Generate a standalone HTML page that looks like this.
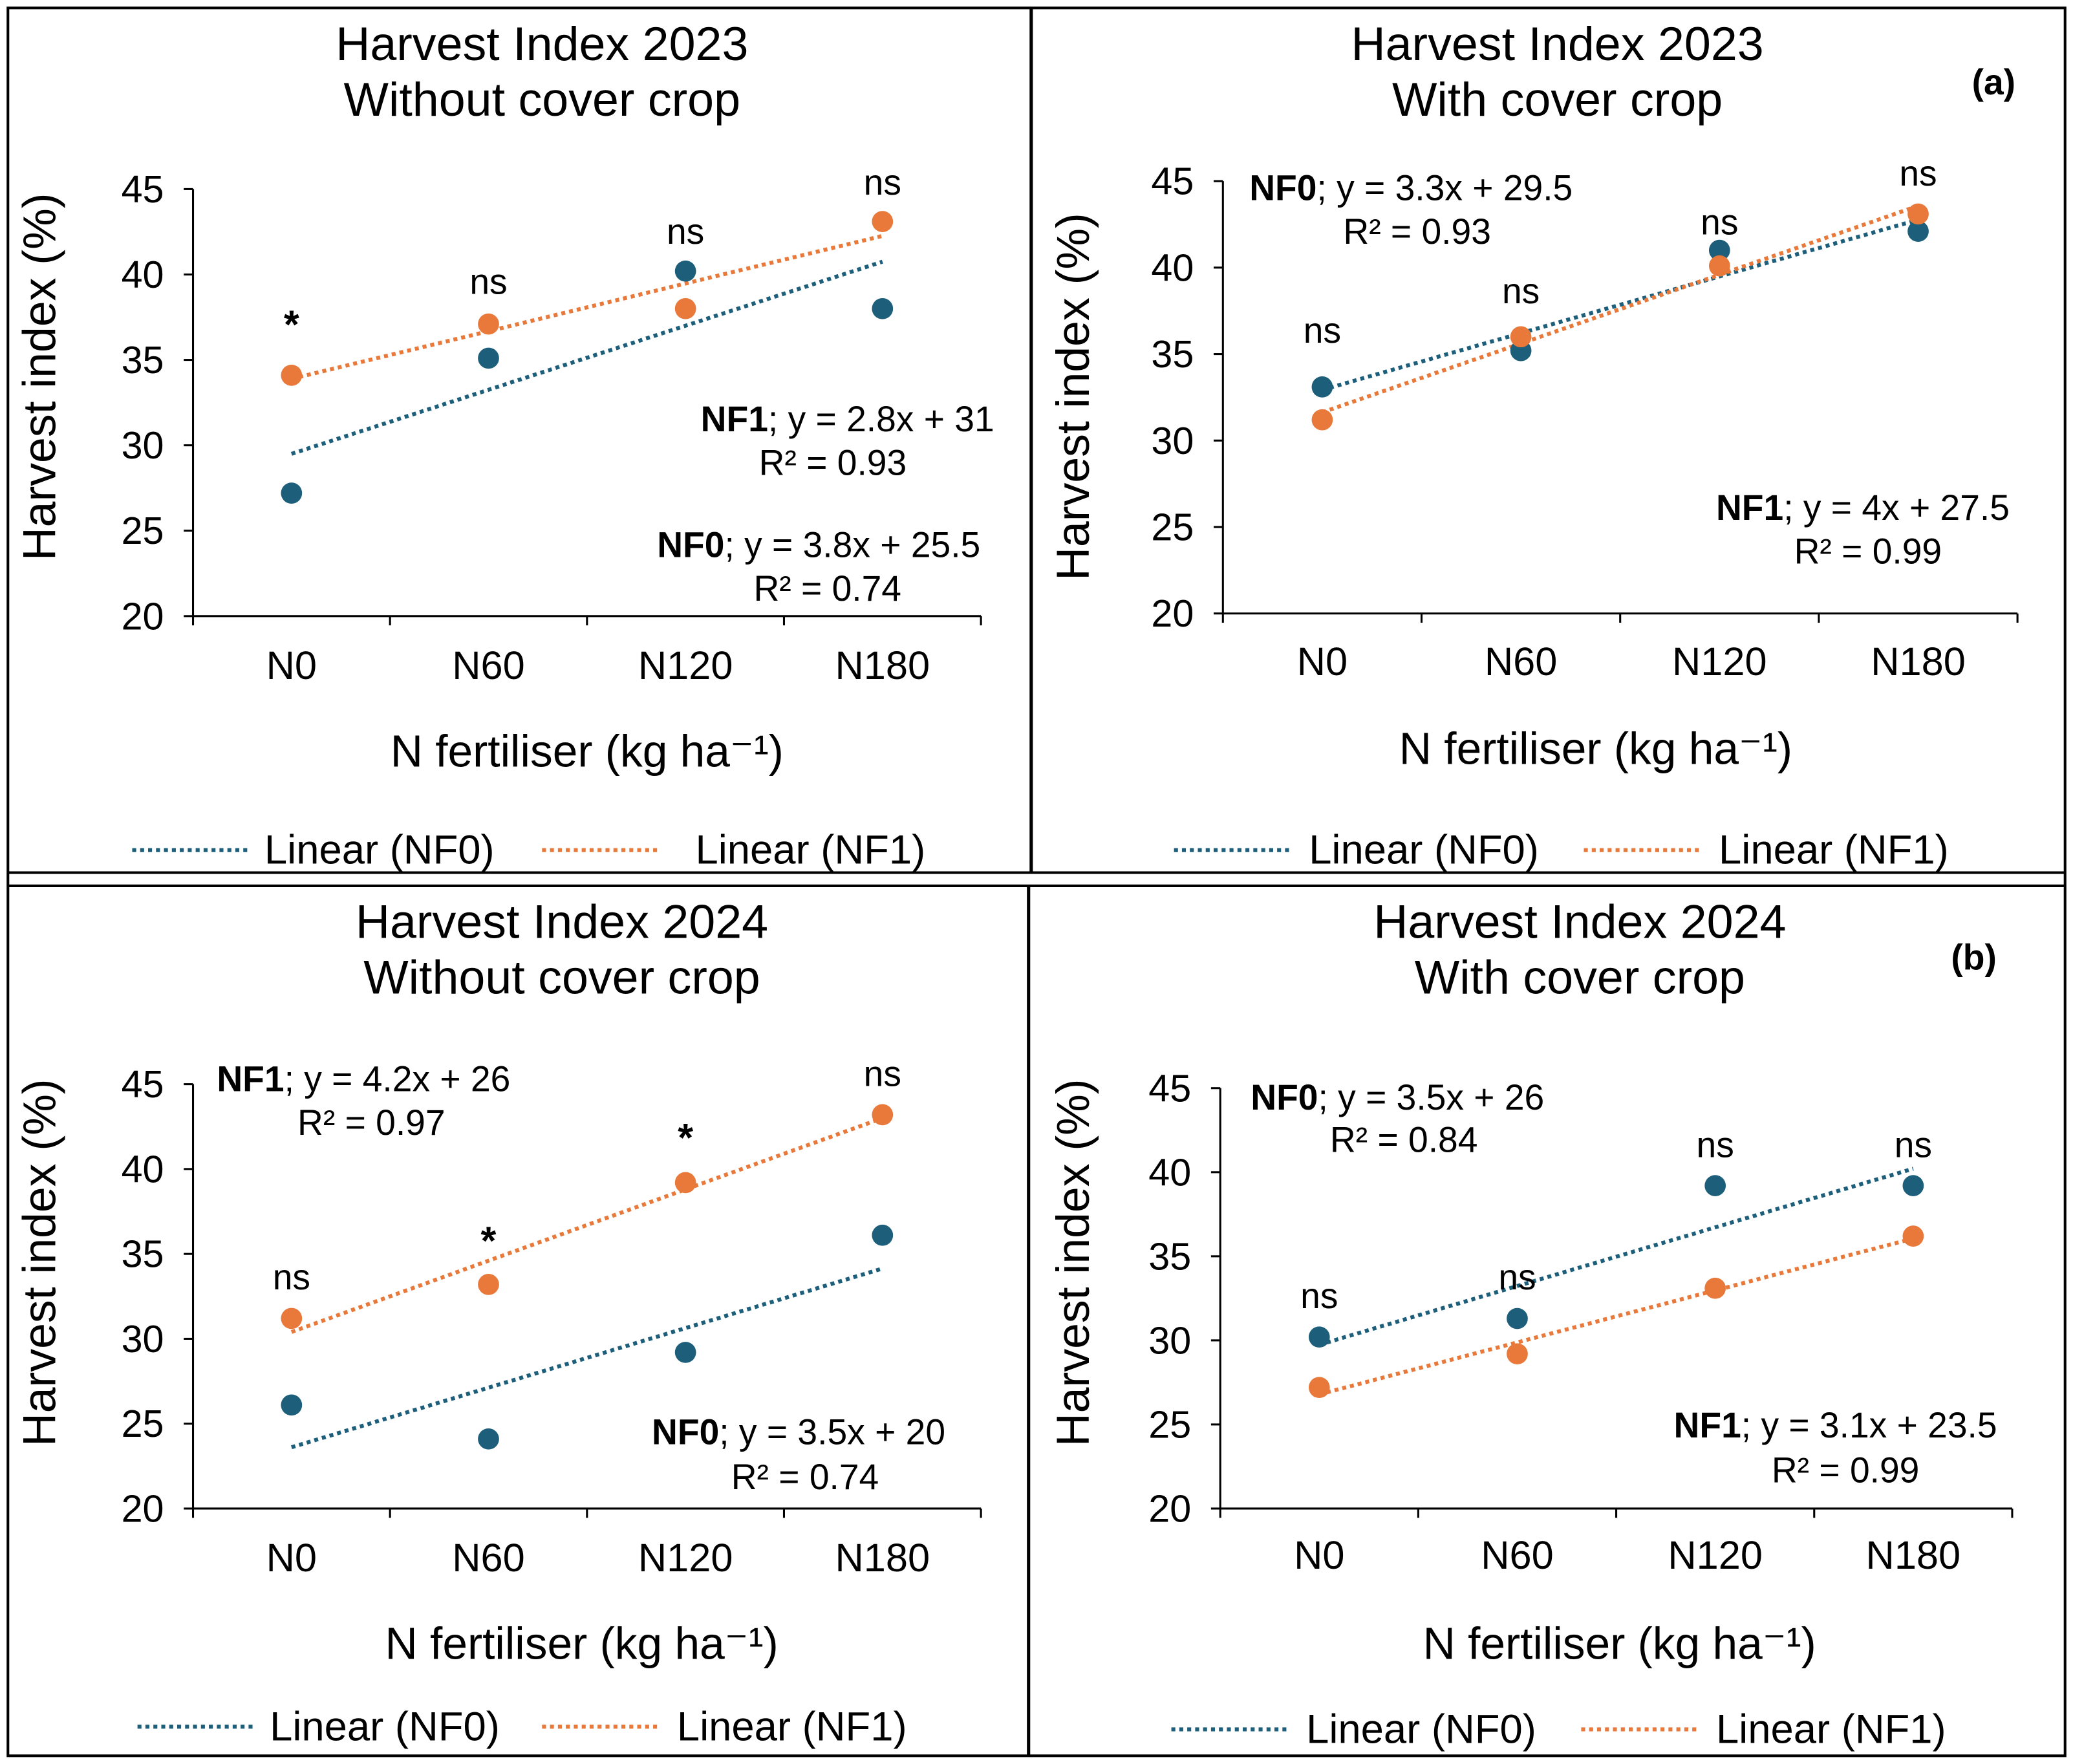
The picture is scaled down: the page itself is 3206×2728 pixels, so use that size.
<!DOCTYPE html>
<html><head><meta charset="utf-8">
<style>
html,body{margin:0;padding:0;background:#fff}
svg{display:block;font-family:"Liberation Sans",Arial,sans-serif}
</style></head>
<body>
<svg id="fig" width="3206" height="2728" viewBox="0 0 1568 1334.2" xmlns="http://www.w3.org/2000/svg">
<rect x="0" y="0" width="1568" height="1334.2" fill="#fff"/>
<g stroke="#000" fill="none">
<rect x="6" y="6" width="1556" height="1322" stroke-width="2"/>
<line x1="780" y1="6" x2="780" y2="660" stroke-width="2.5"/>
<line x1="778" y1="670" x2="778" y2="1328" stroke-width="2.5"/>
<line x1="6" y1="660" x2="1562" y2="660" stroke-width="2"/>
<line x1="6" y1="670" x2="1562" y2="670" stroke-width="2"/>
</g>
</svg>
<script>
const categories = ["N0","N60","N120","N180"];
const yTicks = [20,25,30,35,40,45];
const nf0_2023_without = [27.2, 35.1, 40.2, 38.0];
const nf1_2023_without = [34.1, 37.1, 38.0, 43.1];
const sig_2023_without = ["*","ns","ns","ns"];
const nf0_2023_with = [33.1, 35.2, 41.0, 42.1];
const nf1_2023_with = [31.2, 36.0, 40.1, 43.1];
const sig_2023_with = ["ns","ns","ns","ns"];
const nf0_2024_without = [26.1, 24.1, 29.2, 36.1];
const nf1_2024_without = [31.2, 33.2, 39.2, 43.2];
const sig_2024_without = ["ns","*","*","ns"];
const nf0_2024_with = [30.2, 31.3, 39.2, 39.2];
const nf1_2024_with = [27.2, 29.2, 33.1, 36.2];
const sig_2024_with = ["ns","ns","ns","ns"];

const BLUE="#1d5f7b", ORANGE="#e8793a";
const NS="http://www.w3.org/2000/svg";
const svg=document.getElementById('fig');
function mk(tag,attrs,parent,text){const e=document.createElementNS(NS,tag);for(const k in attrs)e.setAttribute(k,attrs[k]);if(text!==undefined)e.textContent=text;(parent||svg).appendChild(e);return e;}
function fit(v){const n=v.length;let mx=0,my=0;v.forEach((y,i)=>{mx+=i+1;my+=y});mx/=n;my/=n;let sxy=0,sxx=0;v.forEach((y,i)=>{sxy+=(i+1-mx)*(y-my);sxx+=(i+1-mx)*(i+1-mx)});const a=sxy/sxx;return [a,my-a*mx];}

const panels=[
 {name:"2023-without",nf0:nf0_2023_without,nf1:nf1_2023_without,sig:sig_2023_without,x0:146,x1:742,y0:466,y1:143,
  title:["Harvest Index 2023","Without cover crop"],tx:410,ty:33,ytx:30,yty:285,xlx:444,xly:568,tly:503,
  sigY:[240,213,175,138],
  eq:[["NF1","; y = 2.8x + 31",530,317],["","R² = 0.93",574,350],["NF0","; y = 3.8x + 25.5",497,412],["","R² = 0.74",570,445]],
  leg:[100,200,410,526,643],tag:null},
 {name:"2023-with",nf0:nf0_2023_with,nf1:nf1_2023_with,sig:sig_2023_with,x0:925,x1:1526,y0:464,y1:137,
  title:["Harvest Index 2023","With cover crop"],tx:1178,ty:33,ytx:812,yty:300,xlx:1207,xly:566,tly:500,
  sigY:[250,220,168,131],
  eq:[["NF0","; y = 3.3x + 29.5",945,142],["","R² = 0.93",1016,175],["NF1","; y = 4x + 27.5",1298,384],["","R² = 0.99",1357,417]],
  leg:[888,990,1198,1300,643],tag:["(a)",1508,62]},
 {name:"2024-without",nf0:nf0_2024_without,nf1:nf1_2024_without,sig:sig_2024_without,x0:146,x1:742,y0:1141,y1:820,
  title:["Harvest Index 2024","Without cover crop"],tx:425,ty:697,ytx:30,yty:955,xlx:440,xly:1243,tly:1178,
  sigY:[966,933,855,812],
  eq:[["NF1","; y = 4.2x + 26",164,816],["","R² = 0.97",225,849],["NF0","; y = 3.5x + 20",493,1083],["","R² = 0.74",553,1117]],
  leg:[104,204,410,512,1306],tag:null},
 {name:"2024-with",nf0:nf0_2024_with,nf1:nf1_2024_with,sig:sig_2024_with,x0:923,x1:1522,y0:1141,y1:823,
  title:["Harvest Index 2024","With cover crop"],tx:1195,ty:697,ytx:812,yty:955,xlx:1225,xly:1243,tly:1176,
  sigY:[980,966,866,866],
  eq:[["NF0","; y = 3.5x + 26",946,830],["","R² = 0.84",1006,862],["NF1","; y = 3.1x + 23.5",1266,1078],["","R² = 0.99",1340,1112]],
  leg:[886,988,1196,1298,1308],tag:["(b)",1493,724]}
];

panels.forEach(p=>{
 const g=mk('g',{});
 
 
 const step=(p.x1-p.x0)/4;
 const xs=i=>p.x0+(i+0.5)*step;
 const ys=v=>p.y0+(v-20)/25*(p.y1-p.y0);
 p.title.forEach((t,k)=>{const e=mk('text',{x:p.tx,y:p.ty+k*42,'font-size':36,'text-anchor':'middle','dominant-baseline':'central'},g,t);
  });
 if(p.tag){const e=mk('text',{x:p.tag[1],y:p.tag[2],'font-size':27,'font-weight':'bold','text-anchor':'middle','dominant-baseline':'central'},g,p.tag[0]);
  }
 const ax=mk('path',{d:`M${p.x0},${p.y1}V${p.y0}H${p.x1}`,stroke:'#000','stroke-width':1.5,fill:'none'},g);
 
 yTicks.forEach(v=>{
  mk('line',{x1:p.x0-7,x2:p.x0,y1:ys(v),y2:ys(v),stroke:'#000','stroke-width':1.5},g);
  const e=mk('text',{x:p.x0-22,y:ys(v),'font-size':29,'text-anchor':'end','dominant-baseline':'central'},g,String(v));
  
 });
 for(let i=0;i<=4;i++)mk('line',{x1:p.x0+i*step,x2:p.x0+i*step,y1:p.y0,y2:p.y0+7,stroke:'#000','stroke-width':1.5},g);
 categories.forEach((c,i)=>{const e=mk('text',{x:xs(i),y:p.tly,'font-size':30,'text-anchor':'middle','dominant-baseline':'central'},g,c);
  });
 const yt=mk('text',{x:p.ytx,y:p.yty,'font-size':35,'text-anchor':'middle','dominant-baseline':'central',transform:`rotate(-90 ${p.ytx} ${p.yty})`},g,'Harvest  index (%)');
 
 const xt=mk('text',{x:p.xlx,y:p.xly,'font-size':34,'text-anchor':'middle','dominant-baseline':'central'},g,'N fertiliser (kg ha⁻¹)');
 
 [[p.nf0,BLUE,'nf0'],[p.nf1,ORANGE,'nf1']].forEach(([d,col,nm])=>{
  const [a,b]=fit(d);
  const tl=mk('line',{x1:xs(0),y1:ys(a*1+b),x2:xs(3),y2:ys(a*4+b),stroke:col,'stroke-width':3,'stroke-dasharray':'3 3'},g);
  
 });
 [[p.nf0,BLUE,'nf0'],[p.nf1,ORANGE,'nf1']].forEach(([d,col,nm])=>{
  d.forEach((v,i)=>{const c=mk('circle',{cx:xs(i),cy:ys(v),r:8,fill:col},g);
   });
 });
 p.sig.forEach((s,i)=>{const e=mk('text',{x:xs(i),y:p.sigY[i]+(s==='*'?5:0),'font-size':s==='*'?30:27,'font-weight':s==='*'?'bold':'normal','text-anchor':'middle','dominant-baseline':'central'},g,s);
  });
 p.eq.forEach(q=>{const e=mk('text',{x:q[2],y:q[3],'font-size':27,'dominant-baseline':'central'},g);
  
  if(q[0])mk('tspan',{'font-weight':'bold'},e,q[0]);mk('tspan',{},e,q[1]);});
 const L=p.leg;
 [[L[0],L[1],BLUE,'Linear (NF0)'],[L[2],L[3],ORANGE,'Linear (NF1)']].forEach(([lx,tx,col,t])=>{
  const lg=mk('g',{},g);
  mk('line',{x1:lx,x2:lx+90,y1:L[4],y2:L[4],stroke:col,'stroke-width':3,'stroke-dasharray':'3 3'},lg);
  mk('text',{x:tx,y:L[4],'font-size':31,'dominant-baseline':'central'},lg,t);
 });
});
</script>
</body></html>
